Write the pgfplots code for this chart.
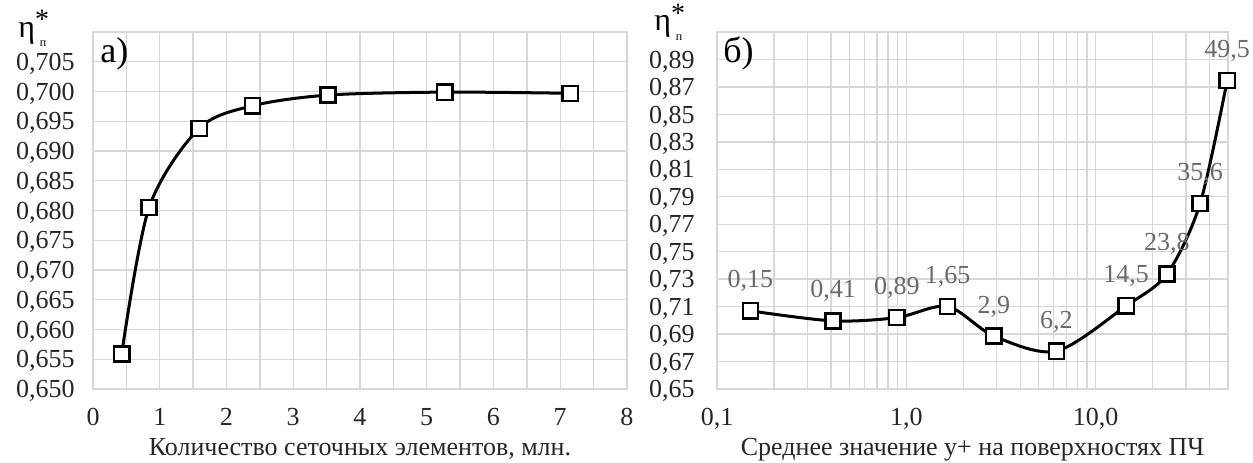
\documentclass[border=0pt]{standalone}
\usepackage{fontspec}
\setmainfont{Liberation Serif}
\usepackage{pgfplots}
\pgfplotsset{compat=1.18}
\definecolor{gridc}{RGB}{215,215,215}
\definecolor{lblc}{RGB}{105,105,105}
\pgfplotsset{
 base/.style={
  scale only axis,
  axis line style={draw=gridc, line width=0.7pt},
  grid=both,
  major grid style={draw=gridc, line width=0.7pt},
  minor grid style={draw=gridc, line width=0.7pt},
  major tick length=0pt, minor tick length=0pt,
  tick label style={font=\fontsize{13}{13}\selectfont, text=black!85},
  yticklabel style={xshift=-5.7pt, text depth=0pt},
  xticklabel style={yshift=-6pt},
  xlabel style={at={(axis description cs:0.5,0)}, anchor=base, yshift=-33pt, font=\fontsize{13}{13}\selectfont, text=black!85},
  clip=false,
  scaled y ticks=false,
  /pgf/number format/assume math mode=true,
 },
 curve/.style={black, line width=1.5pt, smooth, mark=square*, mark size=3.8pt,
   mark options={fill=white, draw=black, line width=1.2pt, solid}},
}
\begin{document}
\begin{tikzpicture}
\path[use as bounding box] (0,0) rectangle (626.5pt,231pt);
\begin{axis}[base, at={(46.5pt,36.5pt)}, anchor=south west, width=267pt, height=178.5pt,
 xmin=0, xmax=8, ymin=0.65, ymax=0.71,
 xtick={0,1,2,3,4,5,6,7,8}, minor xtick={0.5,1.5,2.5,3.5,4.5,5.5,6.5,7.5},
 ytick={0.650,0.655,0.660,0.665,0.670,0.675,0.680,0.685,0.690,0.695,0.700,0.705},
 yticklabel style={/pgf/number format/.cd, fixed, fixed zerofill, precision=3, use comma},
 xlabel={Количество сеточных элементов, млн.}]
\addplot[curve] table {
x y
0.43 0.6559
0.84 0.6805
1.59 0.6938
2.39 0.6976
3.52 0.6994
5.27 0.6999
7.15 0.6997
};
\end{axis}
\begin{axis}[base, at={(358.5pt,36.5pt)}, anchor=south west, width=255.5pt, height=178.5pt,
 xmode=log, xmin=0.1, xmax=50, ymin=0.65, ymax=0.91,
 xtick={0.1,1,10}, xticklabels={{0,1},{1,0},{10,0}},
 minor xtick={0.2,0.3,0.4,0.5,0.6,0.7,0.8,0.9,2,3,4,5,6,7,8,9,20,30,40},
 ytick={0.65,0.67,0.69,0.71,0.73,0.75,0.77,0.79,0.81,0.83,0.85,0.87,0.89},
 yticklabel style={xshift=-2pt, /pgf/number format/.cd, fixed, fixed zerofill, precision=2, use comma},
 xlabel={Среднее значение y+ на поверхностях ПЧ},
 nodes near coords, point meta=explicit symbolic,
 every node near coord/.append style={font=\fontsize{13}{13}\selectfont, text=lblc, anchor=base, yshift=11.5pt, inner sep=0pt}]
\addplot[curve] table[meta=lab] {
x y lab
0.15 0.7069 0,15
0.41 0.6996 0,41
0.89 0.7020 0,89
1.65 0.7101 1,65
2.9 0.6886 2,9
6.2 0.6776 6,2
14.5 0.7106 14,5
23.8 0.7338 23,8
35.6 0.7850 35,6
49.5 0.8747 49,5
};
\end{axis}
% labels
\node[anchor=base west, inner sep=0pt] at (9pt,212.5pt) {\fontsize{16}{16}\selectfont η\rlap{\raisebox{0.28em}{\fontsize{14}{14}\selectfont *}}\raisebox{-0.3em}{\hspace{0.15em}\fontsize{6}{6}\selectfont п}};
\node[anchor=base west, inner sep=0pt] at (327pt,215.5pt) {\fontsize{16}{16}\selectfont η\rlap{\raisebox{0.28em}{\fontsize{14}{14}\selectfont *}}\raisebox{-0.3em}{\hspace{0.15em}\fontsize{6}{6}\selectfont п}};
\node[anchor=base west, inner sep=0pt] at (50pt,200pt) {\fontsize{18}{18}\selectfont а)};
\node[anchor=base west, inner sep=0pt] at (361.5pt,200pt) {\fontsize{18}{18}\selectfont б)};
\end{tikzpicture}
\end{document}
